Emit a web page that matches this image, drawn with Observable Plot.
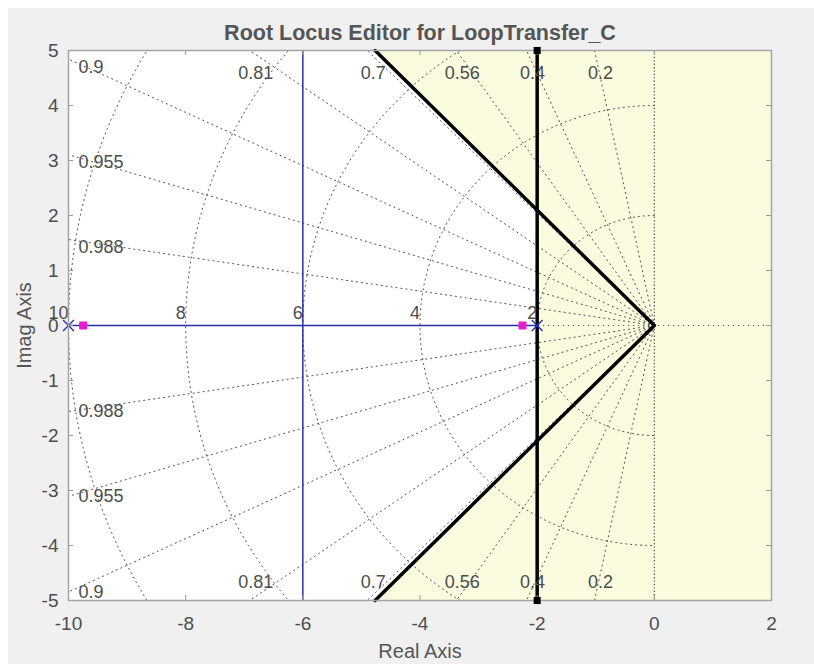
<!DOCTYPE html>
<html>
<head>
<meta charset="utf-8">
<script src="https://cdn.jsdelivr.net/npm/d3@7"></script>
<script src="https://cdn.jsdelivr.net/npm/@observablehq/plot@0.6"></script>
<style>
  html, body { margin: 0; padding: 0; background: #ffffff; }
  #fig { position: absolute; left: 8px; top: 8px; width: 806px; height: 656px; background: #f0f0f0; }
</style>
</head>
<body>
<div id="fig"></div>
<script>
// ---- chart text ----
const titleText = "Root Locus Editor for LoopTransfer_C";
const xLabel = "Real Axis";
const yLabel = "Imag Axis";

// ---- axes ----
const xTicks = [-10, -8, -6, -4, -2, 0, 2];
const yTicks = [-5, -4, -3, -2, -1, 0, 1, 2, 3, 4, 5];
const xDomain = [-10, 2];
const yDomain = [-5, 5];

// ---- s-plane grid ----
const zetaGrid = [0.2, 0.4, 0.56, 0.7, 0.81, 0.9, 0.955, 0.988];
const wnGrid = [2, 4, 6, 8, 10];

// ---- root locus ----
const openLoopPoles = [-10, -2];
const breakawayPoint = -6;
const closedLoopPoles = [-9.75, -2.25];

// ---- design requirements ----
const settlingBound = -2;   // Re(s) limit from the settling-time requirement
const dampingBound = 0.69;  // minimum damping ratio from the overshoot requirement

// ---- layout ----
const W = 806, H = 656, mL = 60, mR = 43, mT = 42, mB = 64;
const plotW = W - mL - mR, plotH = H - mT - mB;
const gridColor = "#555555";
const gridDash = "1.2,3.8";
const locusBlue = "#2630ad";
const textGray = "#4d4d4d";

// |Im| / |Re| along a constant-damping ray
const slope = z => Math.sqrt(1 - z * z) / z;

// admissible (white) region: left of the settling bound and inside the damping cone
const coneX = -yDomain[1] / slope(dampingBound);
const okRegion = [xDomain[0], coneX, settlingBound].map(x => {
  const h = Math.min(yDomain[1], -x * slope(dampingBound));
  return {x, lo: -h, hi: h};
});

// damping rays from the origin (upper and lower half-plane)
const far = 40;
const rays = [];
for (const z of zetaGrid) {
  for (const side of [1, -1]) {
    rays.push({z, side, x: 0, y: 0});
    rays.push({z, side, x: -far * z, y: side * far * Math.sqrt(1 - z * z)});
  }
}

// natural-frequency half circles in the left half-plane
const circles = [];
for (const wn of wnGrid) {
  for (let a = 90; a <= 270; a += 1) {
    const t = a * Math.PI / 180;
    circles.push({wn, x: wn * Math.cos(t), y: wn * Math.sin(t)});
  }
}

// damping labels sit where each ray leaves the axes box
const zetaLabels = [];
for (const z of zetaGrid) {
  const s = slope(z);
  const leftExit = -xDomain[0] * s <= yDomain[1];
  for (const side of [1, -1]) {
    zetaLabels.push(leftExit
      ? {z, side, edge: "left", x: xDomain[0], y: side * -xDomain[0] * s}
      : {z, side, edge: "topbottom", x: -yDomain[1] / s, y: side * yDomain[1]});
  }
}

const lblFont = 18;

const chart = Plot.plot({
  width: W,
  height: H,
  marginLeft: mL,
  marginRight: mR,
  marginTop: mT,
  marginBottom: mB,
  style: {background: "#f0f0f0", fontFamily: "'Liberation Sans', Arial, sans-serif"},
  x: {domain: xDomain},
  y: {domain: yDomain},
  marks: [
    // forbidden region tint, then the admissible region in white
    Plot.frame({fill: "#fbfbdf", stroke: null}),
    Plot.areaY(okRegion, {x: "x", y1: "lo", y2: "hi", fill: "white"}),

    // s-plane grid
    Plot.line(circles, {x: "x", y: "y", z: "wn", stroke: gridColor, strokeWidth: 1, strokeDasharray: gridDash, clip: true}),
    Plot.line(rays, {x: "x", y: "y", z: d => `${d.z}${d.side}`, stroke: gridColor, strokeWidth: 1, strokeDasharray: gridDash, clip: true}),
    Plot.ruleY([0], {stroke: gridColor, strokeWidth: 1, strokeDasharray: gridDash}),
    Plot.ruleX([0], {stroke: gridColor, strokeWidth: 1.2, strokeDasharray: "1.4,2"}),

    // root locus branches
    Plot.line(openLoopPoles.map(x => ({x, y: 0})), {x: "x", y: "y", stroke: locusBlue, strokeWidth: 1.5}),
    Plot.ruleX([breakawayPoint], {stroke: locusBlue, strokeWidth: 1.5}),

    // design requirement boundaries
    Plot.ruleX([settlingBound], {stroke: "black", strokeWidth: 3.5}),
    Plot.line([{x: coneX, y: yDomain[1]}, {x: 0, y: 0}, {x: coneX, y: yDomain[0]}],
      {x: "x", y: "y", stroke: "black", strokeWidth: 3.5, strokeLinejoin: "round"}),

    // open-loop poles and closed-loop poles
    Plot.dot(openLoopPoles, {x: d => d, y: 0, symbol: "times", stroke: locusBlue, strokeWidth: 1.3, r: 5}),
    Plot.dot(closedLoopPoles, {x: d => d, y: 0, symbol: "square", fill: "#e81ccc", stroke: null, r: 4.5}),

    // grid labels
    Plot.text(zetaLabels.filter(d => d.edge === "topbottom" && d.side > 0),
      {x: "x", y: "y", text: d => String(d.z), dx: 6, dy: 23, fontSize: lblFont, fill: textGray}),
    Plot.text(zetaLabels.filter(d => d.edge === "topbottom" && d.side < 0),
      {x: "x", y: "y", text: d => String(d.z), dx: 6, dy: -18, fontSize: lblFont, fill: textGray}),
    Plot.text(zetaLabels.filter(d => d.edge === "left" && d.side > 0),
      {x: "x", y: "y", text: d => String(d.z), dx: 10, dy: 8, textAnchor: "start", fontSize: lblFont, fill: textGray}),
    Plot.text(zetaLabels.filter(d => d.edge === "left" && d.side < 0),
      {x: "x", y: "y", text: d => String(d.z), dx: 10, dy: 0, textAnchor: "start", fontSize: lblFont, fill: textGray}),
    Plot.text(wnGrid, {x: d => -d, y: 0, text: d => String(d), textAnchor: "end", dy: -12, fontSize: lblFont, fill: textGray}),

    // inward tick marks on all four sides
    Plot.tickX(xTicks, {x: d => d, stroke: "#9a9a9a", insetTop: plotH - 5}),
    Plot.tickX(xTicks, {x: d => d, stroke: "#9a9a9a", insetBottom: plotH - 5}),
    Plot.tickY(yTicks, {y: d => d, stroke: "#9a9a9a", insetRight: plotW - 5}),
    Plot.tickY(yTicks, {y: d => d, stroke: "#9a9a9a", insetLeft: plotW - 5}),

    // tick labels
    Plot.axisX({ticks: xTicks, tickSize: 0, tickPadding: 16, tickFormat: d => String(d), fontSize: 19, color: textGray, label: null}),
    Plot.axisY({ticks: yTicks, tickSize: 0, tickPadding: 10, tickFormat: d => String(d), fontSize: 19, color: textGray, label: null}),

    Plot.frame({stroke: "#a4a4a4", strokeWidth: 1.5}),

    // end markers of the settling-time boundary
    Plot.dot(yDomain, {x: settlingBound, y: d => d, symbol: "square", fill: "black", stroke: null, r: 4}),

    // titles
    Plot.text([titleText], {text: d => d, frameAnchor: "top", lineAnchor: "middle", dy: -17, fontSize: 21.5, fontWeight: "bold", fill: "#555555"}),
    Plot.text([xLabel], {text: d => d, frameAnchor: "bottom", lineAnchor: "middle", dy: 51, fontSize: 20, fill: "#555555"}),
    Plot.text([yLabel], {text: d => d, frameAnchor: "left", textAnchor: "middle", lineAnchor: "middle", dx: -44, rotate: -90, fontSize: 20, fill: "#555555"})
  ]
});

document.getElementById("fig").appendChild(chart);
</script>
</body>
</html>
